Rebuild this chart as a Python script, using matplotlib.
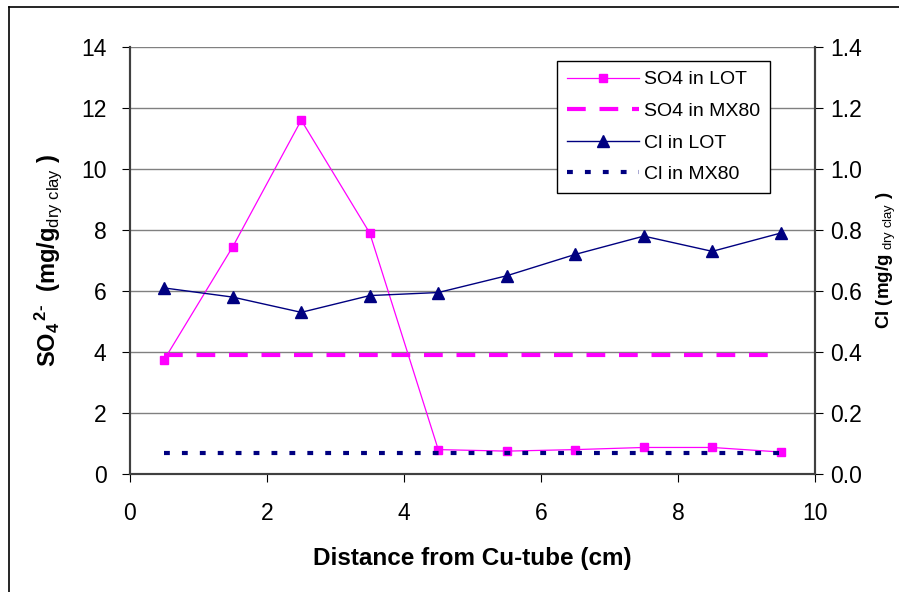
import numpy as np
import matplotlib.pyplot as plt
from matplotlib.lines import Line2D

plt.rcParams['font.family'] = ['Liberation Sans', 'DejaVu Sans']
plt.rcParams['mathtext.fontset'] = 'custom'
plt.rcParams['mathtext.rm'] = 'Liberation Sans:bold'
plt.rcParams['mathtext.it'] = 'Liberation Sans:bold'
plt.rcParams['mathtext.bf'] = 'Liberation Sans:bold'
plt.rcParams['mathtext.sf'] = 'Liberation Sans'

# datos
distance = [0.5, 1.5, 2.5, 3.5, 4.5, 5.5, 6.5, 7.5, 8.5, 9.5]
so4_lot = [3.75, 7.45, 11.6, 7.9, 0.8, 0.75, 0.8, 0.87, 0.87, 0.72]
so4_mx80 = [3.9] * len(distance)
cl_lot = [0.61, 0.58, 0.53, 0.585, 0.595, 0.65, 0.72, 0.78, 0.73, 0.79]
cl_mx80 = [0.07] * len(distance)

pink = '#FF00FF'
navy = '#000080'

fig = plt.figure(figsize=(8.99, 5.92), dpi=100)
ax = fig.add_axes([130 / 899, 1 - 474 / 592, (815 - 130) / 899, (474 - 47) / 592])
ax2 = ax.twinx()

# curvas
l1, = ax.plot(distance, so4_lot, color=pink, lw=0.9, marker='s', ms=6,
              mec=pink, mfc=pink, label='SO4 in LOT', zorder=4)
l2, = ax.plot(distance, so4_mx80, color=pink, lw=3, ls=(0, (4.5, 3.3)),
              label='SO4 in MX80', zorder=3)
l3, = ax2.plot(distance, cl_lot, color=navy, lw=1, marker='^', ms=9,
               label='Cl in LOT', zorder=4)
l4, = ax2.plot(distance, cl_mx80, color=navy, lw=3, ls=(0, (1.4, 2.9)),
               label='Cl in MX80', zorder=3)

ax.set_xlim(0, 10)
ax.set_ylim(0, 14)
ax2.set_ylim(0, 1.4)
ax.set_xticks(np.arange(0, 11, 2))
ax.set_yticks(np.arange(0, 15, 2))
ax2.set_yticks(np.arange(0, 1.41, 0.2))
ax2.set_yticklabels([f'{v:.1f}' for v in np.arange(0, 1.41, 0.2)])

ax.yaxis.grid(True, color='#808080', lw=1)
ax.set_axisbelow(True)

for a in (ax, ax2):
    a.spines['top'].set_visible(False)
    for s in ('left', 'bottom', 'right'):
        a.spines[s].set_color('#404040')
        a.spines[s].set_linewidth(1.5)
ax.tick_params(axis='y', direction='out', length=6, labelsize=16.5, pad=11)
ax.tick_params(axis='x', direction='out', length=6, labelsize=16.5, pad=14)
ax2.tick_params(axis='y', direction='out', length=6, labelsize=16.5, pad=5)

ax.set_xlabel('Distance from Cu-tube (cm)', fontsize=17.5, fontweight='bold', labelpad=16)
ax.set_ylabel(r'SO$_4$$^{\,2\text{-}}$  (mg/g$_{\mathsf{dry\ clay}}$ )', fontsize=17,
              fontweight='bold', labelpad=12)
ax2.set_ylabel(r'Cl (mg/g$_{\mathsf{\ dry\ clay}}$ )', fontsize=13.5,
               fontweight='bold', labelpad=9)

leg = ax2.legend(handles=[l1, l2, l3, l4], loc='upper left',
                 bbox_to_anchor=((557 - 130) / 685, (474 - 61) / 427),
                 borderaxespad=0, fontsize=14, frameon=True, fancybox=False,
                 edgecolor='black', framealpha=1, handlelength=3.7,
                 borderpad=0.5, labelspacing=0.72, handletextpad=0.3)
leg.get_frame().set_linewidth(1)

# borde de la figura
fig.add_artist(Line2D([9 / 899, 9 / 899], [0, 1 - 7 / 592], color='black', lw=1.2))
fig.add_artist(Line2D([9 / 899, 1], [1 - 7 / 592, 1 - 7 / 592], color='black', lw=1.2))

fig.savefig('out.png', dpi=100)
